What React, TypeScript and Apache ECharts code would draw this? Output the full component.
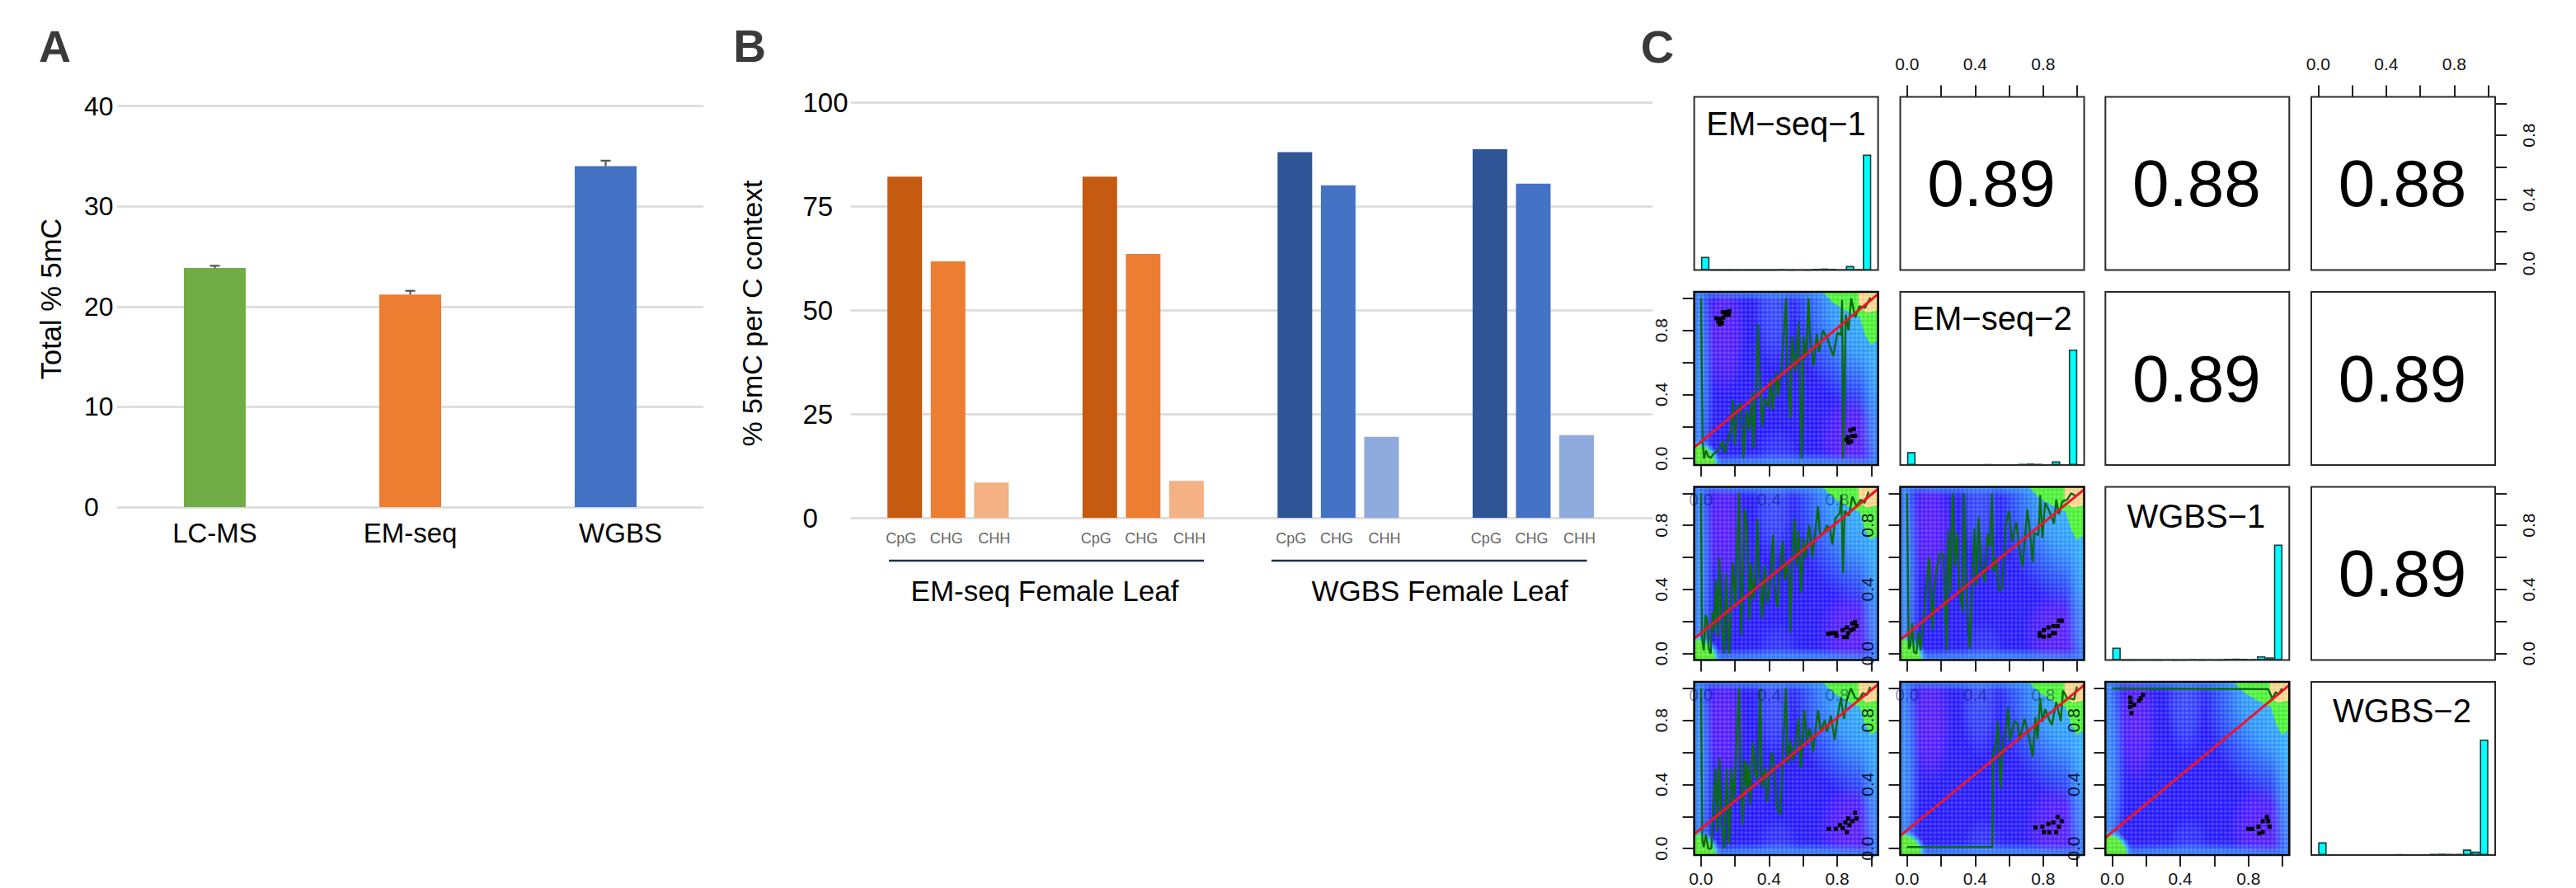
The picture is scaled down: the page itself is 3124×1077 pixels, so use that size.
import React, { useEffect, useRef } from "react";
import * as echarts from "echarts";

const FONT = "Liberation Sans";

// ---------- Panel A ----------
const totalCategories = ["LC-MS", "EM-seq", "WGBS"];
const totalValues = [23.85, 21.2, 34.0];
const totalErrorTops = [24.07, 21.57, 34.55];
const totalColors = ["#70AD47", "#ED7D31", "#4472C4"];

// ---------- Panel B ----------
const contextCategories = [
  "", "", "CpG", "", "CHG", "", "CHH", "", "", "", "", "CpG", "", "CHG", "", "CHH", "", "", "", "",
  "CpG", "", "CHG", "", "CHH", "", "", "", "", "CpG", "", "CHG", "", "CHH", "", "", "",
];
const contextValues: (number | null)[] = [
  null, null, 82.1, null, 61.7, null, 8.5, null, null, null, null, 82.1, null, 63.5, null, 8.9, null, null, null, null,
  88, null, 80, null, 19.5, null, null, null, null, 88.7, null, 80.4, null, 19.9, null, null, null,
];
const contextColors = ["#C55A11", "#ED7D31", "#F4B183", "#2F5597", "#4472C4", "#8FAADC"];
const contextColorIndex = [0, 1, 2, 0, 1, 2, 3, 4, 5, 3, 4, 5];
const groupLabels = ["EM-seq Female Leaf", "WGBS Female Leaf"];

// ---------- Panel C ----------
const diagNames = ["EM\u2212seq\u22121", "EM\u2212seq\u22122", "WGBS\u22121", "WGBS\u22122"];
const corrCells: [number, number, string][] = [
  [0, 1, "0.89"], [0, 2, "0.88"], [0, 3, "0.88"],
  [1, 2, "0.89"], [1, 3, "0.89"],
  [2, 3, "0.89"],
];
const hist1 = [0.115, 0.002, 0.002, 0.002, 0.002, 0.002, 0.002, 0.002, 0.002, 0.008, 0.002, 0.003, 0.002, 0.01, 0.013, 0.01, 0.004, 0.035, 0.005, 1];
const hist2 = [0.112, 0.002, 0.002, 0.002, 0.002, 0.002, 0.003, 0.002, 0.002, 0.008, 0.002, 0.003, 0.002, 0.01, 0.013, 0.01, 0.004, 0.033, 0.004, 1];
const hist3 = [0.107, 0.002, 0.002, 0.002, 0.002, 0.002, 0.003, 0.002, 0.002, 0.008, 0.002, 0.003, 0.002, 0.009, 0.012, 0.009, 0.005, 0.033, 0.024, 1];
const hist4 = [0.11, 0.002, 0.002, 0.002, 0.002, 0.002, 0.003, 0.002, 0.002, 0.008, 0.002, 0.003, 0.002, 0.01, 0.012, 0.01, 0.01, 0.048, 0.03, 1];
const histograms = [hist1, hist2, hist3, hist4];

const trendR2C1 = [
  [0, 1], [0.01, 0.1], [0.018, 0], [0.03, 0.05], [0.042, 0.014], [0.058, 0.005], [0.074, 0.03], [0.107, 0.057], [0.128, 0.11], [0.139, 0.034],
  [0.176, 0.185], [0.187, 0.365], [0.199, 0.08], [0.216, 0.33], [0.236, 0.34], [0.249, 0], [0.268, 0.305], [0.284, 0.177], [0.3, 0.41], [0.309, 0.065],
  [0.325, 0.51], [0.336, 0.84], [0.346, 0.477], [0.36, 0.2], [0.373, 0.374], [0.397, 0.32], [0.408, 0.5], [0.421, 0.305], [0.441, 0.537], [0.454, 0.39],
  [0.478, 0.63], [0.499, 1], [0.51, 0.46], [0.526, 0.254], [0.535, 0.76], [0.554, 0.545], [0.575, 0.854], [0.591, 0], [0.603, 0.76], [0.616, 0.63],
  [0.632, 1], [0.64, 0.75], [0.661, 0.58], [0.68, 0.777], [0.693, 0.665], [0.717, 0.8], [0.745, 0.74], [0.777, 0.64], [0.801, 0.785], [0.822, 0.77],
  [0.829, 0.99], [0.835, 0], [0.85, 0.897], [0.866, 0.8], [0.882, 1], [0.906, 0.88], [0.93, 0.95], [0.963, 0.94], [0.995, 1.005],
];
const trendR3C1 = [
  [0, 1], [0.006, 0.1], [0.016, 0.02], [0.027, 0.24], [0.036, 0.21], [0.045, 0.03], [0.057, 0], [0.068, 0.26], [0.076, 0.14], [0.087, 0.46],
  [0.099, 0.1], [0.108, 0.6], [0.12, 0.21], [0.136, 0], [0.147, 0.5], [0.165, 0], [0.186, 0.57], [0.202, 0.29], [0.223, 1], [0.236, 0.12],
  [0.257, 0.9], [0.271, 0.77], [0.284, 0.21], [0.294, 0.56], [0.309, 0.34], [0.32, 0.5], [0.331, 0.84], [0.339, 0.55], [0.359, 0.22], [0.372, 0.55],
  [0.388, 0.31], [0.404, 0.41], [0.423, 0.74], [0.433, 0.41], [0.449, 0.29], [0.468, 0.6], [0.481, 0.7], [0.493, 0.46], [0.504, 0.57], [0.517, 0.46],
  [0.525, 0.13], [0.536, 0.63], [0.549, 0.84], [0.562, 0.55], [0.574, 0.77], [0.588, 0.38], [0.601, 0.72], [0.614, 0.6], [0.635, 0.8], [0.654, 0.6],
  [0.67, 0.75], [0.687, 0.92], [0.698, 0.75], [0.719, 0.75], [0.74, 0.8], [0.759, 0.77], [0.772, 0.68], [0.788, 0.84], [0.816, 0.88], [0.824, 0.99],
  [0.834, 0.5], [0.843, 0.89], [0.869, 0.86], [0.889, 0.98], [0.913, 0.92], [0.937, 0.96], [0.961, 0.94], [0.985, 1.01],
];
const trendR3C2 = [
  [0, 1], [0.01, 0.03], [0.02, 0.05], [0.03, 0.19], [0.04, 0.01], [0.055, 0], [0.068, 0.14], [0.079, 0.02], [0.095, 0.19], [0.11, 0.38],
  [0.129, 0.6], [0.149, 0.15], [0.158, 0.38], [0.174, 0.53], [0.194, 0.625], [0.213, 0.62], [0.233, 0.02], [0.242, 0.77], [0.255, 0.38], [0.268, 1],
  [0.281, 0.55], [0.294, 0.75], [0.307, 0.41], [0.326, 0.26], [0.334, 1], [0.347, 0.445], [0.368, 0.03], [0.396, 0.78], [0.41, 0.43], [0.42, 0.85],
  [0.436, 0.55], [0.456, 0.445], [0.472, 0.745], [0.485, 0.67], [0.498, 1], [0.507, 0.51], [0.523, 0.6], [0.54, 0.39], [0.56, 0.41], [0.577, 0.79],
  [0.598, 0.89], [0.617, 0.7], [0.641, 0.82], [0.661, 0.65], [0.679, 0.54], [0.706, 0.9], [0.717, 0.8], [0.738, 0.57], [0.746, 0.75], [0.771, 0.74],
  [0.782, 0.99], [0.795, 0.72], [0.811, 0.94], [0.835, 0.89], [0.863, 0.81], [0.876, 0.96], [0.892, 0.87], [0.913, 0.95], [0.94, 0.96], [0.964, 1], [0.989, 0.985],
];
const trendR4C1 = [
  [0, 1], [0.008, 0.05], [0.016, 0.01], [0.029, 0.09], [0.042, 0], [0.061, 0], [0.073, 0.29], [0.086, 0.5], [0.097, 0.1], [0.108, 0.565],
  [0.121, 0.15], [0.137, 0], [0.15, 0.5], [0.165, 0.03], [0.178, 0.5], [0.194, 0.29], [0.223, 1], [0.234, 0.41], [0.246, 0.145], [0.258, 0.55],
  [0.27, 0.38], [0.278, 0.53], [0.291, 0.27], [0.304, 0.66], [0.32, 0.46], [0.331, 0.43], [0.347, 1], [0.359, 0.38], [0.375, 0.5], [0.388, 0.29],
  [0.414, 0.6], [0.428, 0.53], [0.446, 0.26], [0.465, 0.21], [0.498, 1], [0.51, 0.53], [0.525, 0.67], [0.541, 0.55], [0.557, 0.67], [0.574, 0.82],
  [0.586, 0.5], [0.606, 0.865], [0.622, 0.67], [0.638, 0.75], [0.657, 0.6], [0.687, 0.865], [0.703, 0.73], [0.727, 0.8], [0.74, 0.73], [0.763, 0.83],
  [0.785, 0.68], [0.805, 0.84], [0.821, 0.94], [0.84, 0.81], [0.856, 0.925], [0.88, 1], [0.905, 0.94], [0.929, 0.93], [0.95, 0.97], [0.977, 0.96], [0.994, 1.01],
];
const trendR4C2 = [
  [0, 0.01], [0.5, 0.01], [0.507, 0.615], [0.517, 0.61], [0.533, 0.795], [0.54, 0.6], [0.549, 0.375], [0.565, 0.685], [0.582, 0.755], [0.593, 0.88],
  [0.604, 0.675], [0.63, 0.795], [0.649, 0.78], [0.661, 0.675], [0.69, 0.81], [0.711, 0.72], [0.738, 0.575], [0.754, 0.82], [0.766, 0.685], [0.782, 0.94],
  [0.795, 0.79], [0.811, 0.87], [0.835, 0.805], [0.851, 0.77], [0.876, 0.915], [0.903, 0.795], [0.916, 0.985], [0.94, 0.94], [0.981, 0.93], [0.997, 1.01],
];
const trendR4C3 = [[0, 1], [0.916, 0.995], [0.927, 0.97], [0.94, 0.935], [0.96, 0.975], [0.98, 0.965], [0.997, 1]];

const fitR2C1 = [[-0.04, 0.07], [1.04, 1.026]];
const fitR3C1 = [[-0.04, 0.094], [1.04, 1.027]];
const fitR3C2 = [[-0.04, 0.086], [1.04, 1.024]];
const fitR4C1 = [[-0.04, 0.09], [1.04, 1.024]];
const fitR4C2 = [[-0.04, 0.08], [1.04, 1.02]];
const fitR4C3 = [[-0.04, 0.068], [1.04, 1.02]];

const dotsR2C1 = [
  [0.09, 0.876], [0.102, 0.854], [0.111, 0.837], [0.124, 0.846], [0.115, 0.871], [0.131, 0.88], [0.144, 0.897], [0.163, 0.897], [0.166, 0.919], [0.128, 0.914], [0.15, 0.914],
  [0.855, 0.117], [0.863, 0.134], [0.877, 0.177], [0.898, 0.185], [0.906, 0.142], [0.882, 0.108], [0.866, 0.1], [0.89, 0.142],
];
const dotsR3C1 = [
  [0.748, 0.123], [0.767, 0.128], [0.792, 0.128], [0.796, 0.111], [0.832, 0.146], [0.84, 0.103], [0.856, 0.163], [0.864, 0.128], [0.889, 0.188], [0.905, 0.197], [0.913, 0.171], [0.88, 0.146], [0.856, 0.103], [0.897, 0.154],
];
const dotsR3C2 = [
  [0.779, 0.128], [0.779, 0.111], [0.803, 0.146], [0.803, 0.106], [0.83, 0.163], [0.835, 0.111], [0.859, 0.171], [0.868, 0.128], [0.892, 0.205], [0.884, 0.171], [0.908, 0.205], [0.856, 0.128],
];
const dotsR4C1 = [
  [0.751, 0.123], [0.792, 0.123], [0.816, 0.146], [0.832, 0.128], [0.856, 0.103], [0.848, 0.163], [0.872, 0.146], [0.864, 0.188], [0.889, 0.171], [0.905, 0.223], [0.913, 0.188],
];
const dotsR4C2 = [
  [0.754, 0.132], [0.795, 0.137], [0.803, 0.103], [0.83, 0.154], [0.835, 0.103], [0.859, 0.163], [0.876, 0.103], [0.884, 0.197], [0.908, 0.171], [0.892, 0.137],
];
const dotsR4C3 = [
  [0.105, 0.942], [0.108, 0.913], [0.105, 0.884], [0.113, 0.845], [0.129, 0.896], [0.157, 0.921], [0.168, 0.938], [0.181, 0.96],
  [0.8, 0.123], [0.824, 0.123], [0.859, 0.137], [0.862, 0.094], [0.884, 0.171], [0.908, 0.197], [0.916, 0.171], [0.884, 0.103], [0.924, 0.137],
];

const scatterCells: [number, number, number[][], number[][], number[][]][] = [
  [1, 0, trendR2C1, fitR2C1, dotsR2C1],
  [2, 0, trendR3C1, fitR3C1, dotsR3C1],
  [2, 1, trendR3C2, fitR3C2, dotsR3C2],
  [3, 0, trendR4C1, fitR4C1, dotsR4C1],
  [3, 1, trendR4C2, fitR4C2, dotsR4C2],
  [3, 2, trendR4C3, fitR4C3, dotsR4C3],
];

// density background: soft glows [cx, cy, rx, ry, paletteIndex, alpha]
const densityPalette = ["128,32,255", "70,120,255", "58,160,255", "51,204,255"];
const densityGlows = [
  [0.14, 0.78, 0.13, 0.4, 0, 0.62],
  [0.88, 0.13, 0.2, 0.28, 0, 0.62],
  [0.43, 0.92, 0.12, 0.36, 1, 0.55],
  [0.45, 0.04, 0.12, 0.16, 1, 0.3],
  [-0.06, 0.5, 0.14, 1.1, 2, 1],
  [0.5, -0.08, 1.1, 0.12, 2, 1],
  [0.4, 1.08, 0.9, 0.1, 2, 0.9],
  [1.08, 0.3, 0.15, 0.65, 2, 1],
  [1.04, 1.04, 0.52, 0.78, 3, 1],
];
// density contour bands: polygons [fill index, points]
const densityFills = ["#4cfa30", "#ffdc8c"];
const densityPolygons: [number, number[][]][] = [
  [0, [[0.714, 1.04], [0.94, 1.04], [0.94, 0.88], [0.859, 0.92], [0.778, 0.97]]],
  [0, [[0.924, 0.93], [1.04, 0.93], [1.04, 0.74], [0.997, 0.71], [0.965, 0.77], [0.94, 0.856]]],
  [1, [[0.925, 1.04], [1.04, 1.04], [1.04, 0.925], [0.973, 0.91], [0.925, 0.95]]],
];
const densityCorner = [-0.04, -0.04, 0.16, 0.165];

const PANEL_X = [2054.6, 2304.5, 2553.3, 2803];
const PANEL_Y = [117.5, 354, 590.5, 827];
const PANEL_W = 223;
const PANEL_H = 210;
const DOMAIN: [number, number] = [-0.04, 1.04];
const TICKS = [0, 0.2, 0.4, 0.6, 0.8, 1];
const LABEL_TICKS = [0, 0.4, 0.8];

function makeTexture(): string {
  const c = document.createElement("canvas");
  c.width = PANEL_W * 2;
  c.height = PANEL_H * 2;
  const g = c.getContext("2d")!;
  const step = 5.18 * 2;
  for (let i = 0; i * step < c.width + step; i++) {
    for (let j = 0; j * step < c.height + step; j++) {
      const x = i * step + 1;
      const y = j * step + 3;
      const r = g.createRadialGradient(x, y, 0, x, y, step * 0.62);
      r.addColorStop(0, "rgba(255,255,255,0.34)");
      r.addColorStop(0.5, "rgba(255,255,255,0.12)");
      r.addColorStop(1, "rgba(0,0,150,0.08)");
      g.fillStyle = r;
      g.fillRect(x - step / 2, y - step / 2, step, step);
    }
  }
  return c.toDataURL();
}

function cellAxes(row: number, col: number, isDiag: boolean, gridIndex: number) {
  const scatter = row > col;
  const topTicks = row === 0 && (col === 1 || col === 3);
  const rightTicks = col === 3 && (row === 0 || row === 2);
  const leftLabels = col === 0 && scatter;
  const tickStyle = { lineStyle: { color: "#222", width: 2 } };
  const labelStyle = {
    color: "#111", fontSize: 21, fontFamily: FONT, margin: 30,
    formatter: (v: any) => Number(v).toFixed(1), customValues: LABEL_TICKS,
  };
  const xAxis: any = {
    type: "value", gridIndex, min: DOMAIN[0], max: DOMAIN[1], position: topTicks ? "top" : "bottom",
    axisLine: { show: false, onZero: false }, splitLine: { show: false },
    axisTick: { show: topTicks || scatter, length: 14, customValues: TICKS, ...tickStyle },
    axisLabel: { show: topTicks, ...labelStyle },
  };
  const yAxis: any = {
    type: "value", gridIndex, min: isDiag ? 0 : DOMAIN[0], max: isDiag ? 1.5 : DOMAIN[1], position: rightTicks ? "right" : "left",
    axisLine: { show: false, onZero: false }, splitLine: { show: false },
    axisTick: { show: scatter || rightTicks, length: 14, customValues: TICKS, ...tickStyle },
    axisLabel: { show: leftLabels || rightTicks, rotate: 90, ...labelStyle },
  };
  return { xAxis, yAxis };
}

function buildOption() {
  const texture = makeTexture();
  const grid: any[] = [
    { left: 142, top: 128.6, width: 711, height: 486.4 },
    { left: 1031.5, top: 124, width: 972.5, height: 504 },
  ];
  const xAxis: any[] = [
    {
      type: "category", gridIndex: 0, data: totalCategories,
      axisLine: { show: false }, axisTick: { show: false },
      axisLabel: {
        color: "#000", fontSize: 33, margin: 15, fontFamily: FONT,
        formatter: (v: string) => (v === "WGBS" ? "{w|WGBS}" : v),
        rich: { w: { padding: [0, 0, 0, 36], fontSize: 33, color: "#000", fontFamily: FONT } },
      },
    },
    {
      type: "category", gridIndex: 1, data: contextCategories,
      axisLine: { show: false }, axisTick: { show: false },
      axisLabel: {
        color: "#666", fontSize: 18, margin: 16, interval: 0, fontFamily: FONT,
        formatter: (v: string) => (v === "CpG" ? "{a|CpG}" : v === "CHH" ? "{b|CHH}" : v === "CHG" ? "{c|CHG}" : ""),
        rich: {
          a: { padding: [0, 9, 0, 0], fontSize: 18, color: "#666", fontFamily: FONT },
          b: { padding: [0, 0, 0, 7], fontSize: 18, color: "#666", fontFamily: FONT },
          c: { padding: [0, 4, 0, 0], fontSize: 18, color: "#666", fontFamily: FONT },
        },
      },
    },
  ];
  const gridLine = { show: true, lineStyle: { color: "#d9d9d9", width: 2.5 } };
  const yAxis: any[] = [
    {
      type: "value", gridIndex: 0, min: 0, max: 40, interval: 10,
      axisLine: { show: false }, axisTick: { show: false }, splitLine: gridLine,
      axisLabel: { color: "#000", fontSize: 32, align: "left", margin: 40, padding: [10, 0, 0, 0], fontFamily: FONT },
    },
    {
      type: "value", gridIndex: 1, min: 0, max: 100, interval: 25,
      axisLine: { show: false }, axisTick: { show: false }, splitLine: gridLine,
      axisLabel: { color: "#000", fontSize: 33, align: "left", margin: 58, padding: [10, 0, 0, 0], fontFamily: FONT },
    },
  ];

  const series: any[] = [
    {
      type: "bar", xAxisIndex: 0, yAxisIndex: 0, barWidth: 75, z: 3,
      data: totalValues.map((v, i) => ({ value: v, itemStyle: { color: totalColors[i] } })),
    },
    {
      type: "custom", xAxisIndex: 0, yAxisIndex: 0, z: 4,
      data: totalValues.map((v, i) => [i, v, totalErrorTops[i]]),
      renderItem: (_: any, api: any) => {
        const lo = api.coord([api.value(0), api.value(1)]);
        const hi = api.coord([api.value(0), api.value(2)]);
        const st = { stroke: "#555", lineWidth: 2.2 };
        return {
          type: "group",
          children: [
            { type: "line", shape: { x1: lo[0], y1: lo[1], x2: hi[0], y2: hi[1] }, style: st },
            { type: "line", shape: { x1: hi[0] - 6, y1: hi[1], x2: hi[0] + 6, y2: hi[1] }, style: st },
          ],
        };
      },
    },
    (() => {
      let n = 0;
      return {
        type: "bar", xAxisIndex: 1, yAxisIndex: 1, barWidth: 42, z: 3,
        data: contextValues.map((v) => {
          if (v == null) return null;
          return { value: v, itemStyle: { color: contextColors[contextColorIndex[n++]] } };
        }),
      };
    })(),
  ];

  const texts: any[] = [];
  const text = (t: string, x: number, y: number, fontSize: number, extra: any = {}, rotation = 0, z = 60) => {
    texts.push({
      type: "text", x, y, rotation, z, silent: true,
      style: { text: t, fontFamily: FONT, fontSize, fill: "#000", textAlign: "center", textVerticalAlign: "middle", ...extra },
    });
  };

  text("A", 66.5, 56, 54, { fontWeight: "bold", fill: "#3a3a3a" });
  text("B", 909, 56, 55, { fontWeight: "bold", fill: "#3a3a3a" });
  text("C", 2010, 56, 56, { fontWeight: "bold", fill: "#3a3a3a" });
  text("Total % 5mC", 62, 362.5, 34.5, {}, Math.PI / 2);
  text("% 5mC per C context", 911.5, 380, 34, {}, Math.PI / 2);
  text(groupLabels[0], 1267, 716, 35);
  text(groupLabels[1], 1746, 716, 35);
  [[1078, 1460], [1542, 1924.5]].forEach(([a, b]) => {
    texts.push({ type: "line", z: 60, silent: true, shape: { x1: a, y1: 680, x2: b, y2: 680 }, style: { stroke: "#1f2f4f", lineWidth: 2.5 } });
  });

  // Panel C cells
  for (let r = 0; r < 4; r++) {
    for (let c = 0; c < 4; c++) {
      const gi = grid.length;
      const x0 = PANEL_X[c];
      const y0 = PANEL_Y[r];
      const isDiag = r === c;
      const cell = scatterCells.find((s) => s[0] === r && s[1] === c);
      grid.push({
        left: x0, top: y0, width: PANEL_W, height: PANEL_H,
        show: !!cell, backgroundColor: cell ? "#2418ff" : "transparent", borderWidth: 0,
      });
      const ax = cellAxes(r, c, isDiag, gi);
      xAxis.push(ax.xAxis);
      yAxis.push(ax.yAxis);
      texts.push({
        type: "rect", z: 55, silent: true,
        shape: { x: x0, y: y0, width: PANEL_W, height: PANEL_H },
        style: { fill: "none", stroke: cell ? "#0a0a0a" : "#2a2a2a", lineWidth: cell ? 2.6 : 2 },
      });

      if (isDiag) {
        series.push({
          type: "bar", xAxisIndex: gi, yAxisIndex: gi, barWidth: 10.3, z: 3,
          itemStyle: { color: "#00ffff", borderColor: "#0c3c3c", borderWidth: 1.6 },
          data: histograms[r].map((h, i) => [(i + 0.5) * 0.05, h]),
        });
        text(diagNames[r], x0 + PANEL_W / 2 - (r >= 2 ? 1.5 : 0), y0 + (r >= 2 ? 35 : 32), 40);
      }

      const corr = corrCells.find((k) => k[0] === r && k[1] === c);
      if (corr) {
        text(corr[2], x0 + PANEL_W / 2 - 1, y0 + PANEL_H / 2, 80);
      }

      if (cell) {
        const [, , trend, fit, dots] = cell;
        series.push({
          type: "custom", xAxisIndex: gi, yAxisIndex: gi, z: 1, clip: true, silent: true,
          data: densityGlows,
          renderItem: (_: any, api: any) => {
            const p = api.coord([api.value(0), api.value(1)]);
            const s = api.size([api.value(2), api.value(3)]);
            const col = densityPalette[api.value(4)];
            const a = api.value(5);
            return {
              type: "ellipse",
              shape: { cx: p[0], cy: p[1], rx: s[0], ry: s[1] },
              style: {
                fill: new echarts.graphic.RadialGradient(0.5, 0.5, 0.5, [
                  { offset: 0, color: `rgba(${col},${a})` },
                  { offset: 0.55, color: `rgba(${col},${a * 0.72})` },
                  { offset: 1, color: `rgba(${col},0)` },
                ]),
              },
            };
          },
        });
        series.push({
          type: "custom", xAxisIndex: gi, yAxisIndex: gi, z: 2, clip: true, silent: true,
          data: densityPolygons.map((_, i) => [i, 0]),
          renderItem: (params: any, api: any) => {
            const [fill, pts] = densityPolygons[params.dataIndex];
            return {
              type: "polygon",
              shape: { points: pts.map((q) => api.coord(q)) },
              style: { fill: densityFills[fill] },
            };
          },
        });
        series.push({
          type: "custom", xAxisIndex: gi, yAxisIndex: gi, z: 2, clip: true, silent: true,
          data: [densityCorner],
          renderItem: (_: any, api: any) => {
            const p = api.coord([api.value(0), api.value(1)]);
            const s = api.size([api.value(2), api.value(3)]);
            return {
              type: "ellipse",
              shape: { cx: p[0], cy: p[1], rx: s[0], ry: s[1] },
              style: {
                fill: new echarts.graphic.RadialGradient(0.5, 0.5, 0.5, [
                  { offset: 0, color: "#56f02c" },
                  { offset: 0.74, color: "#56f02c" },
                  { offset: 0.8, color: "rgba(51,204,255,0.95)" },
                  { offset: 1, color: "rgba(58,160,255,0)" },
                ]),
              },
            };
          },
        });
        series.push({
          type: "custom", xAxisIndex: gi, yAxisIndex: gi, z: 3, silent: true,
          data: [[0.5, 0.5]],
          renderItem: (params: any) => {
            const cs = params.coordSys;
            return { type: "image", style: { image: texture, x: cs.x, y: cs.y, width: cs.width, height: cs.height } };
          },
        });
        series.push({
          type: "line", xAxisIndex: gi, yAxisIndex: gi, z: 4, symbol: "none", silent: true,
          lineStyle: { color: "#0a6a12", width: 2.4 }, data: trend,
        });
        series.push({
          type: "line", xAxisIndex: gi, yAxisIndex: gi, z: 5, symbol: "none", silent: true,
          lineStyle: { color: "#f01428", width: 3 }, data: fit,
        });
        series.push({
          type: "scatter", xAxisIndex: gi, yAxisIndex: gi, z: 6, symbol: "rect", symbolSize: 5, silent: true,
          itemStyle: { color: "#000", opacity: 1 }, data: dots,
        });

        const toX = (v: number) => x0 + ((v - DOMAIN[0]) / (DOMAIN[1] - DOMAIN[0])) * PANEL_W;
        const toY = (v: number) => y0 + PANEL_H - ((v - DOMAIN[0]) / (DOMAIN[1] - DOMAIN[0])) * PANEL_H;

        // bottom tick labels sit just inside the figure's lower edge
        if (r === 3) {
          LABEL_TICKS.forEach((v) => text(v.toFixed(1), toX(v), 1065, 21, { fill: "#111" }));
        }

        // stray tick labels printed through the density image
        const hasOverlay = (r === 2 && c === 0) || (r === 3 && c < 2);
        if (hasOverlay) {
          LABEL_TICKS.forEach((v) => {
            text(v.toFixed(1), toX(v), y0 + 15, 21, { fill: "rgba(0,0,90,0.42)" });
            text(v.toFixed(1), x0 + PANEL_W - 13, toY(v), 21, { fill: "rgba(0,0,20,0.85)" }, Math.PI / 2);
          });
        }
      }
    }
  }

  return {
    animation: false,
    backgroundColor: "#fff",
    textStyle: { fontFamily: FONT },
    grid,
    xAxis,
    yAxis,
    series,
    graphic: { elements: texts },
  };
}

export default function App() {
  const ref = useRef<HTMLDivElement>(null);
  useEffect(() => {
    const chart = echarts.init(ref.current!, undefined, { renderer: "svg" });
    chart.setOption(buildOption() as any);
    return () => chart.dispose();
  }, []);
  return <div ref={ref} style={{ position: "absolute", left: 0, top: 0, width: 3124, height: 1077, overflow: "hidden" }} />;
}
